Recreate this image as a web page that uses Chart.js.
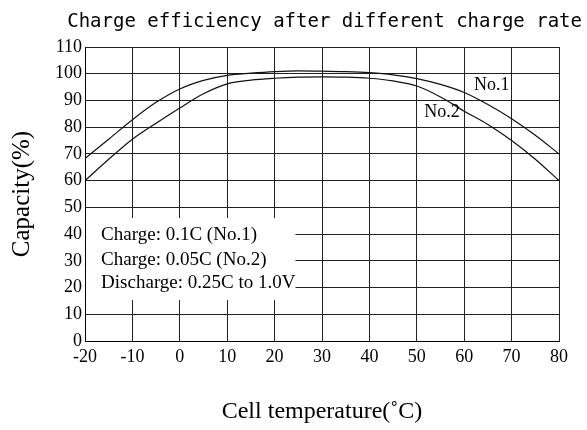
<!DOCTYPE html>
<html>
<head>
<meta charset="utf-8">
<script src="https://cdn.jsdelivr.net/npm/chart.js@4/dist/chart.umd.min.js"></script>
<style>
  body { margin: 0; background: #fff; }
  #chart { display: block; }
</style>
</head>
<body>
<canvas id="chart" width="587" height="430"></canvas>
<script>
// temperatures (deg C)
const temps = [-20, -15, -10, -5, 0, 5, 10, 15, 20, 25, 30, 35, 40, 45, 50, 55, 60, 65, 70, 75, 80];
// No.1 : charge 0.1C
const no1 = [68.3, 75.5, 82.8, 89.3, 94.3, 97.5, 99.4, 100.2, 100.8, 101.1, 101.0, 100.8, 100.4, 99.6, 98.2, 96.0, 93.0, 88.5, 83.2, 77.0, 70.0];
// No.2 : charge 0.05C
const no2 = [60.0, 68.0, 75.5, 81.5, 87.2, 92.5, 96.2, 97.6, 98.3, 98.7, 98.8, 98.7, 98.3, 97.3, 95.4, 91.3, 86.0, 81.0, 75.0, 68.0, 60.0];

const xTicks = [-20, -10, 0, 10, 20, 30, 40, 50, 60, 70, 80];
const yTicks = [0, 10, 20, 30, 40, 50, 60, 70, 80, 90, 100, 110];

const noteLines = ['Charge: 0.1C (No.1)', 'Charge: 0.05C (No.2)', 'Discharge: 0.25C to 1.0V'];
const curveLabels = [
    { text: 'No.1', x: 65.8, y: 95.8 },
    { text: 'No.2', x: 55.3, y: 85.7 }
];

const serif = '"Liberation Serif", "Times New Roman", serif';

function toPoints(values) {
    return temps.map((t, i) => ({ x: t, y: values[i] }));
}

// white box with the test conditions, sitting on top of the grid
const notesPlugin = {
    id: 'notes',
    beforeDatasetsDraw(chart) {
        const ctx = chart.ctx;
        const xs = chart.scales.x;
        const ys = chart.scales.y;
        const left = xs.getPixelForValue(-20) + 1;
        const right = xs.getPixelForValue(24.4);
        const top = ys.getPixelForValue(46);
        const bottom = ys.getPixelForValue(15.3);
        ctx.save();
        ctx.fillStyle = '#fff';
        ctx.fillRect(left, top, right - left, bottom - top);
        ctx.fillStyle = '#000';
        ctx.font = '19px ' + serif;
        ctx.textAlign = 'left';
        ctx.textBaseline = 'middle';
        const lineY = [39.7, 30.4, 21.7];
        noteLines.forEach((line, i) => {
            ctx.fillText(line, xs.getPixelForValue(-16.6), ys.getPixelForValue(lineY[i]));
        });
        ctx.restore();
    },
    afterDatasetsDraw(chart) {
        const ctx = chart.ctx;
        ctx.save();
        ctx.fillStyle = '#000';
        ctx.font = '18px ' + serif;
        ctx.textAlign = 'center';
        ctx.textBaseline = 'middle';
        curveLabels.forEach(l => {
            ctx.fillText(l.text, chart.scales.x.getPixelForValue(l.x), chart.scales.y.getPixelForValue(l.y));
        });
        ctx.restore();
    }
};

const ctx = document.getElementById('chart').getContext('2d');
new Chart(ctx, {
    type: 'line',
    data: {
        datasets: [{
            label: 'No.1',
            data: toPoints(no1),
            borderColor: '#111',
            borderWidth: 1.2,
            pointRadius: 0,
            cubicInterpolationMode: 'monotone',
            fill: false
        }, {
            label: 'No.2',
            data: toPoints(no2),
            borderColor: '#111',
            borderWidth: 1.2,
            pointRadius: 0,
            cubicInterpolationMode: 'monotone',
            fill: false
        }]
    },
    options: {
        responsive: false,
        animation: false,
        layout: { padding: { left: 0, right: 5, top: 0, bottom: 0 } },
        plugins: {
            legend: { display: false },
            tooltip: { enabled: false },
            title: {
                display: true,
                text: 'Charge efficiency after different charge rate',
                align: 'end',
                color: '#000',
                font: { family: '"DejaVu Sans Mono", monospace', size: 19, weight: 'normal' },
                padding: { top: 10.6, bottom: 13.6 }
            }
        },
        scales: {
            x: {
                type: 'linear',
                min: -20,
                max: 80,
                afterBuildTicks: (scale) => { scale.ticks = xTicks.map(v => ({ value: v })); },
                afterFit: (scale) => { scale.paddingRight = 28; },
                grid: { color: '#222', lineWidth: 1, drawTicks: false },
                border: { color: '#000', width: 1 },
                ticks: { color: '#000', padding: 5, maxRotation: 0, font: { family: serif, size: 18 } },
                title: {
                    display: true,
                    text: 'Cell temperature(˚C)',
                    color: '#000',
                    font: { family: serif, size: 24 },
                    padding: { top: 25, bottom: 3.6 }
                }
            },
            y: {
                min: 0,
                max: 110,
                afterBuildTicks: (scale) => { scale.ticks = yTicks.map(v => ({ value: v })); },
                grid: { color: '#222', lineWidth: 1, drawTicks: false },
                border: { color: '#000', width: 1 },
                ticks: { color: '#000', padding: 3, font: { family: serif, size: 18 } },
                title: {
                    display: true,
                    text: 'Capacity(%)',
                    color: '#000',
                    font: { family: serif, size: 25 },
                    padding: { top: 7, bottom: 15 }
                }
            }
        }
    },
    plugins: [notesPlugin]
});
</script>
</body>
</html>
